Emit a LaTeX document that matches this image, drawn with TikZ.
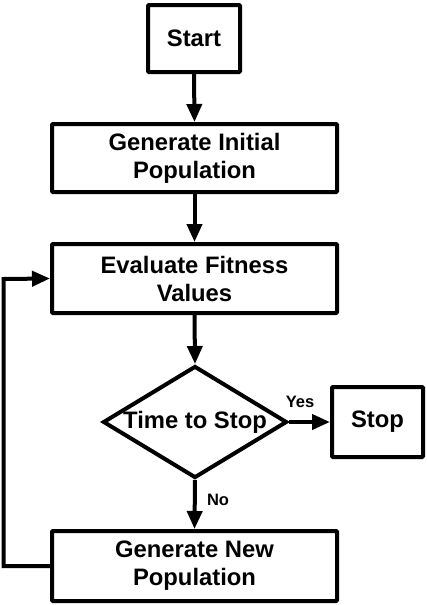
\documentclass[tikz,border=0pt]{standalone}
\usepackage{fontspec}
\setmainfont{Liberation Sans}
\usetikzlibrary{shapes.geometric,arrows.meta}
\begin{document}
\begin{tikzpicture}[x=1pt,y=-1pt,
  every node/.style={font=\fontsize{23.8}{28}\selectfont\bfseries},
  box/.style={draw,line width=4pt,rounded corners=1pt,align=center,inner sep=0pt},
  dec/.style={draw,diamond,line width=4pt,inner sep=0pt,minimum width=184pt,minimum height=112pt,aspect=1.6},
  lbl/.style={font=\fontsize{16.5}{18}\selectfont\bfseries,inner sep=0pt},
  arr/.style={line width=4pt,-{Triangle[length=18pt,width=15pt]}},
  ln/.style={line width=4pt}]
\useasboundingbox (0,0) rectangle (427,605);
\node[box,minimum width=92pt,minimum height=67pt] (start) at (194,38.5) {Start};
\node[box,minimum width=285pt,minimum height=68pt] (init) at (194.5,158) {Generate Initial\\Population};
\node[box,minimum width=285pt,minimum height=69pt] (eval) at (194.5,278.5) {Evaluate Fitness\\Values};
\node[dec] (dia) at (195,422) {Time to Stop};
\node[box,minimum width=91pt,minimum height=70pt] (stop) at (377.5,422) {Stop};
\node[box,minimum width=285pt,minimum height=70pt] (new) at (194.5,566) {Generate New\\Population};
\coordinate (c1) at (3.5,566);
\coordinate (c2) at (3.5,279);
\draw[arr] (start.south) -- (init.north);
\draw[arr] (init.south) -- (eval.north);
\draw[arr] (eval.south) -- (dia.north);
\draw[arr] (dia.east) -- (stop.west);
\draw[arr] (dia.south) -- (new.north);
\draw[arr,line join=miter] (new.west) -- (c1) -- (c2) -- (eval.west);
\node[lbl] (yes) at (300,402) {Yes};
\node[lbl] (no) at (218,500) {No};
\end{tikzpicture}
\end{document}
